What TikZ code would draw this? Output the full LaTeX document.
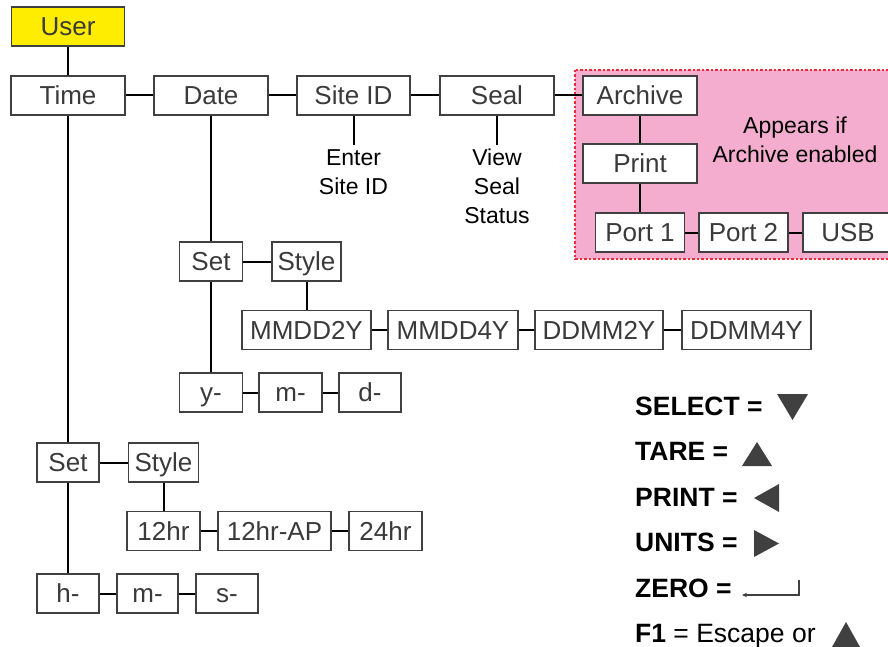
\documentclass[tikz,border=0pt]{standalone}
\usepackage[x11names]{xcolor}
\usepackage{fontspec}
\setmainfont{Liberation Sans}
\usepackage{tikz}
\usetikzlibrary{arrows.meta}

\definecolor{boxline}{HTML}{404040}
\definecolor{boxtext}{HTML}{3A3A3A}
\definecolor{userfill}{HTML}{FFED00}
\definecolor{archivefill}{HTML}{F4ADCE}
\definecolor{archiveborder}{HTML}{EE2A3A}

\tikzset{
    menubox/.style = {draw = boxline, fill = white, line width = 1.8pt, text = boxtext, minimum height = 39pt, inner sep = 0pt, text height = 22pt, text depth = 3.4pt, font = \fontsize{26}{31}\selectfont},
    infotext/.style = {align = center, inner sep = 4pt, font = \fontsize{23}{29}\selectfont},
    legendtext/.style = {anchor = base west, inner sep = 0pt, font = \fontsize{26.5}{32}\selectfont},
    link/.style = {line width = 2pt}
}

\begin{document}
\begin{tikzpicture}[x = 1pt, y = -1pt]
    \useasboundingbox (0, 0) rectangle (888, 647);
    % archive area
    \filldraw [fill = archivefill, draw = archiveborder, line width = 2.5pt, dash pattern = on 2.5pt off 2pt] (575, 70) rectangle (905, 259);
    \node [infotext] (note) at (795, 140) {Appears if\\Archive enabled};
    % menu boxes
    \node [menubox, fill = userfill, minimum width = 113] (user) at (68, 26.5) {User};
    \foreach \n/\t/\x/\y/\w in {time/Time/68/95.5/114, date/Date/211/95.5/114, siteid/Site ID/353.5/95.5/113, seal/Seal/497/95.5/114, archive/Archive/640/95.5/114,
        print/Print/640/163.5/114, portone/Port 1/640/232.5/89, porttwo/Port 2/743.5/232.5/89, usb/USB/848/232.5/90,
        dset/Set/211/261.5/63, dstyle/Style/306.5/261.5/69, mmddtwo/MMDD2Y/306.5/330/129, mmddfour/MMDD4Y/453/330/130, ddmmtwo/DDMM2Y/599/330/128, ddmmfour/DDMM4Y/746.5/330/129,
        dy/y-/211/392.5/63, dm/m-/290.5/392.5/63, dd/d-/370/392.5/62,
        tset/Set/68/462.5/62, tstyle/Style/163.5/462.5/70, ttwelve/12hr/163.5/531/73, ttwelveap/12hr-AP/274.5/531/113, tfour/24hr/385.5/531/73,
        th/h-/68/593.5/62, tm/m-/147.5/593.5/61, ts/s-/227/593.5/62} {
        \node [menubox, minimum width = \w] (\n) at (\x, \y) {\t};
    }
    \node [infotext, anchor = north] (siteinfo) at (353.5, 145) {Enter\\Site ID};
    \node [infotext, anchor = north] (sealinfo) at (497, 145) {View\\Seal\\Status};
    % connectors
    \foreach \i/\j in {user/time, time/date, date/siteid, siteid/seal, seal/archive, archive/print, print/portone, portone/porttwo, porttwo/usb,
        siteid/siteinfo, seal/sealinfo,
        date/dset, dset/dstyle, dstyle/mmddtwo, mmddtwo/mmddfour, mmddfour/ddmmtwo, ddmmtwo/ddmmfour, dset/dy, dy/dm, dm/dd,
        time/tset, tset/tstyle, tstyle/ttwelve, ttwelve/ttwelveap, ttwelveap/tfour, tset/th, th/tm, tm/ts} {
        \draw [link] (\i) -- (\j);
    }
    % key legend
    \foreach \n/\t/\y in {select/SELECT =/415, tare/TARE =/460, printkey/PRINT =/506, units/UNITS =/551, zero/ZERO =/597} {
        \node [legendtext] (\n) at (635, \y) {\textbf{\t}};
    }
    \node [legendtext] (fone) at (635, 642) {\textbf{F1} = Escape or};
    \fill [boxline] (777, 394) -- (808, 394) -- (792.5, 420) -- cycle;
    \fill [boxline] (742, 466) -- (772, 466) -- (757, 442) -- cycle;
    \fill [boxline] (779, 484) -- (779, 512) -- (754, 498) -- cycle;
    \fill [boxline] (754, 530) -- (754, 557) -- (779, 543.5) -- cycle;
    \draw [boxline, line width = 1.3pt, -{Stealth[length = 5pt, width = 4.5pt]}] (799, 580) -- (799, 595) -- (742, 595);
    \fill [boxline] (832, 647) -- (860, 647) -- (846, 622) -- cycle;
\end{tikzpicture}
\end{document}
